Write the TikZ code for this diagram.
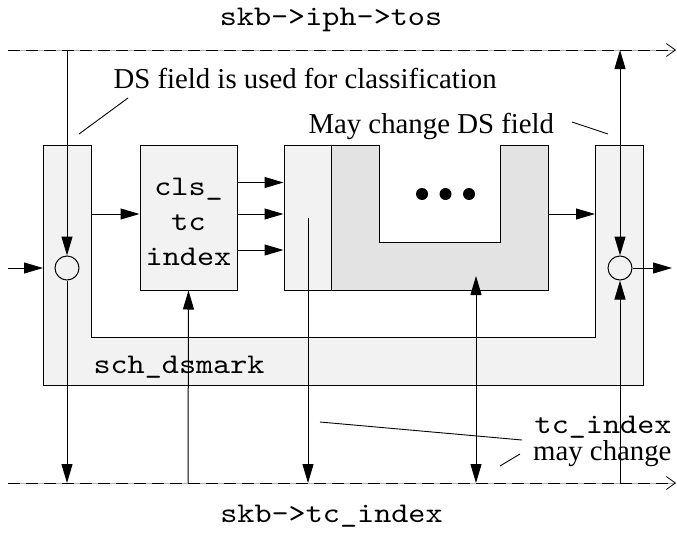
\documentclass[tikz,border=0pt]{standalone}
\usepackage{fontspec}
\setmainfont{Liberation Serif}
\setmonofont{lmmono10-regular.otf}[FakeStretch=1.143]
\usetikzlibrary{arrows.meta,calc}
\definecolor{paleFill}{HTML}{F2F2F2}
\definecolor{midFill}{HTML}{E3E3E3}
\begin{document}
\begin{tikzpicture}[x=1pt,y=-1pt,line width=1pt,
  tipto/.style={-{Triangle[length=19pt,width=11pt]}},
  tipboth/.style={{Triangle[length=19pt,width=11pt]}-{Triangle[length=19pt,width=11pt]}},
  bus/.style={dash pattern=on 12pt off 6pt,-{Straight Barb[length=9pt,width=13pt,line width=0.8pt]}},
  busbase/.style={gray!60,line width=0.8pt},
  serif/.style={font=\fontsize{28.8}{30}\selectfont,inner sep=0pt},
  mono/.style={font=\ttfamily\fontsize{28.5}{35}\selectfont,inner sep=0pt},
  block/.style={draw,fill=paleFill,minimum width=97pt,minimum height=145pt,inner sep=0pt},
  joint/.style={draw,circle,minimum size=24pt,inner sep=0pt},
  leader/.style={line width=0.9pt}]
\useasboundingbox (0,0) rectangle (677,538);

% buses
\coordinate (topL) at (8,50);   \coordinate (topR) at (676,50);
\coordinate (botL) at (8,483);  \coordinate (botR) at (676,483);
\draw[busbase] (topL) -- (topR);
\draw[bus] (topL) -- (topR);
\draw[busbase] (botL) -- (botR);
\draw[bus] (botL) -- (botR);
\node[mono,anchor=base] (tosLabel) at (331,25) {skb->iph->tos};
\node[mono,anchor=base] (tciLabel) at (331.5,522) {skb->tc\_index};

% sch_dsmark U-shaped frame
\draw[fill=paleFill] (43,145) -- (91,145) -- (91,337) -- (595,337) -- (595,145)
  -- (643,145) -- (643,385) -- (43,385) -- cycle;
\node[mono,anchor=base west] (dsmark) at (93,373) {sch\_dsmark};

% classifier block
\node[block] (cls) at (188.5,217.5) {};
\node[mono,align=center] (clsText) at (188.5,222) {cls\_\\tc\\index};

% inner queueing discipline
\node[draw,fill=paleFill,minimum width=47pt,minimum height=145pt,inner sep=0pt] (inner) at (307.5,217.5) {};
\draw[fill=midFill] (331,145) -- (379,145) -- (379,242) -- (500,242) -- (500,145)
  -- (548,145) -- (548,290) -- (331,290) -- cycle;
\foreach \i/\x in {1/422,2/445.5,3/469}
  \node[circle,fill=black,minimum size=12pt,inner sep=0pt] (dot\i) at (\x,194) {};

% joints
\node[joint] (lj) at (67,268) {};
\node[joint] (rj) at (620,268) {};

% connectors
\coordinate (inL) at (8,268);
\coordinate (lpL) at (43,268);
\draw[tipto] (inL) -- (lpL);
\coordinate (lTop) at (67,50);
\coordinate (lBot) at (67,483);
\draw[tipto] (lTop) -- (lj.north);
\draw[tipto] (lj.south) -- (lBot);
\coordinate (lpR) at (91,214);
\draw[tipto] (lpR) -- (lpR -| cls.west);
\draw[tipto] ([yshift=35pt]cls.east) -- ([yshift=35pt]inner.west);
\draw[tipto] ([yshift=3.5pt]cls.east) -- ([yshift=3.5pt]inner.west);
\draw[tipto] ([yshift=-32.5pt]cls.east) -- ([yshift=-32.5pt]inner.west);
\coordinate (innerOut) at (308,218);
\coordinate (innerBot) at (308,483);
\draw[tipto] (innerOut) -- (innerBot);
\coordinate (clsIn) at (188,483);
\draw[tipto] (clsIn) -- (cls.south);
\coordinate (qBot) at (476,483);
\coordinate (qIn) at (476,276);
\draw[tipboth] (qIn) -- (qBot);
\coordinate (qOut) at (548,214);
\coordinate (rpL) at (595,214);
\draw[tipto] (qOut) -- (rpL);
\coordinate (rTop) at (620,50);
\coordinate (rBot) at (620,483);
\draw[tipboth] (rTop) -- (rj.north);
\draw[tipto] (rBot) -- (rj.south);
\coordinate (outR) at (672,268);
\draw[tipto] (rj.east) -- (outR);

% annotations
\node[serif,anchor=base west] (clsNote) at (113,88) {DS field is used for classification};
\draw[leader] (128,98) -- (79,134);
\node[serif,anchor=base west] (dsNote) at (308,133) {May change DS field};
\draw[leader] (572,122) -- (608,134);
\node[mono,anchor=base east] (tcNote) at (672,433) {tc\_index};
\node[serif,anchor=base east] (mayNote) at (672,460) {may change};
\draw[leader] (320,422) -- (522,440);
\draw[leader] (500,466) -- (520,454);
\end{tikzpicture}
\end{document}
